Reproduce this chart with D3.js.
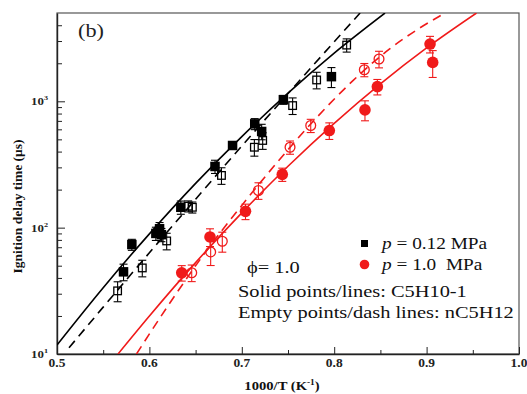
<!DOCTYPE html>
<html>
<head>
<meta charset="utf-8">
<script src="https://cdn.jsdelivr.net/npm/d3@7"></script>
<style>
  html, body { margin: 0; padding: 0; background: #fff; }
  svg { display: block; }
  text { font-family: "Liberation Serif", "Times New Roman", serif; }
</style>
</head>
<body>
<svg id="chart" width="527" height="394"></svg>
<script>
// Ignition delay times vs inverse temperature, phi = 1.0
// Measured points (1000/T in 1/K, delay in microseconds) and relative error
const c5h10LowX   = [0.572, 0.581, 0.607, 0.611, 0.613, 0.634, 0.671, 0.690, 0.714, 0.7215, 0.745, 0.797];
const c5h10LowY   = [44.7, 73.5, 90, 98, 88, 145, 305, 447, 663, 577, 1030, 1567];
const c5h10LowErr = [0.15, 0.10, 0.12, 0.12, 0.12, 0.12, 0.12, 0.07, 0.10, 0.14, 0.08, 0.18];

const nc5h12LowX   = [0.5656, 0.5923, 0.6187, 0.642, 0.6465, 0.678, 0.7136, 0.7226, 0.755, 0.781, 0.8135];
const nc5h12LowY   = [31.6, 48, 78.5, 148, 145, 259, 433, 490, 925, 1476, 2786];
const nc5h12LowErr = [0.18, 0.15, 0.15, 0.10, 0.10, 0.15, 0.15, 0.15, 0.15, 0.15, 0.12];

const c5h10HighX   = [0.635, 0.6656, 0.704, 0.7438, 0.7947, 0.8333, 0.8467, 0.9037, 0.9066];
const c5h10HighY   = [43.9, 84.4, 134.6, 264, 587, 855, 1306, 2840, 2032];
const c5h10HighErr = [0.14, 0.16, 0.14, 0.12, 0.15, 0.18, 0.14, 0.15, 0.24];

const nc5h12HighX   = [0.6458, 0.6663, 0.6789, 0.718, 0.7522, 0.7746, 0.8326, 0.8485];
const nc5h12HighY   = [44, 64.3, 78, 197, 433, 643, 1778, 2164];
const nc5h12HighErr = [0.15, 0.22, 0.18, 0.15, 0.12, 0.12, 0.12, 0.15];

// Model predictions
const c5h10LowModelX  = [0.50, 0.55, 0.60, 0.65, 0.70, 0.75, 0.80, 0.855];
const c5h10LowModelY  = [11.8, 33.5, 89.3, 224, 526, 1162, 2410, 5000];
const nc5h12LowModelX = [0.513, 0.55, 0.60, 0.65, 0.70, 0.75, 0.80, 0.828];
const nc5h12LowModelY = [11.2, 23.5, 63.3, 168, 443, 1151, 2960, 5000];
const c5h10HighModelX = [0.566, 0.60, 0.65, 0.70, 0.75, 0.80, 0.85, 0.90, 0.954];
const c5h10HighModelY = [10, 20, 52.9, 131, 306, 669, 1374, 2646, 5000];
const nc5h12HighModelX = [0.586, 0.62, 0.66, 0.70, 0.74, 0.78, 0.82, 0.86, 0.89, 0.92];
const nc5h12HighModelY = [10, 24, 63, 150, 340, 730, 1450, 2600, 3700, 5000];

// Axis ticks
const xMajorTicks = [0.5, 0.6, 0.7, 0.8, 0.9, 1.0];
const xTickLabels = ["0.5", "0.6", "0.7", "0.8", "0.9", "1.0"];
const xMinorTicks = [0.55, 0.65, 0.75, 0.85, 0.95];
const yMajorTicks = [10, 100, 1000];
const yTickExponents = ["1", "2", "3"];
const yMinorTicks = [20, 30, 40, 50, 60, 70, 80, 90, 200, 300, 400, 500, 600, 700, 800, 900, 2000, 3000, 4000];

const BLACK = "#000";
const RED = "#f01a1a";
const STRETCH = 1.17; // wide-set lettering
const NOTE_STRETCH = 1.2;

const svg = d3.select("#chart");
const plot = { left: 57, right: 519, top: 13, bottom: 354 };

const x = d3.scaleLinear().domain([0.5, 1.0]).range([plot.left, plot.right]);
const y = d3.scaleLog().domain([10, 5000]).range([plot.bottom, plot.top]);

svg.append("defs").append("clipPath").attr("id", "plotClip")
  .append("rect")
  .attr("x", plot.left).attr("y", plot.top)
  .attr("width", plot.right - plot.left).attr("height", plot.bottom - plot.top);

// Frame
svg.append("rect")
  .attr("x", plot.left).attr("y", plot.top)
  .attr("width", plot.right - plot.left).attr("height", plot.bottom - plot.top)
  .attr("fill", "none").attr("stroke", "#555").attr("stroke-width", 1.2);

// Bottom axis: inward ticks
const xAxisMajor = d3.axisBottom(x).tickValues(xMajorTicks).tickSizeInner(-7).tickSizeOuter(0)
  .tickFormat("").tickPadding(12);
const gx = svg.append("g").attr("transform", `translate(0,${plot.bottom})`).call(xAxisMajor);
gx.select(".domain").attr("stroke", "#222").attr("stroke-width", 1.4);
gx.selectAll(".tick line").attr("stroke", "#222").attr("stroke-width", 1);
const gxMinor = svg.append("g").attr("transform", `translate(0,${plot.bottom})`)
  .call(d3.axisBottom(x).tickValues(xMinorTicks).tickSizeInner(-4).tickSizeOuter(0).tickFormat(""));
gxMinor.select(".domain").remove();
gxMinor.selectAll(".tick line").attr("stroke", "#222").attr("stroke-width", 1);

xMajorTicks.forEach((v, i) => {
  svg.append("g").attr("transform", `translate(${x(v)},367) scale(${STRETCH},1)`)
    .append("text").attr("text-anchor", "middle")
    .attr("font-weight", "bold").attr("font-size", 11.5).attr("fill", "#222")
    .text(xTickLabels[i]);
});

// Left axis: inward ticks with power-of-ten labels
const gy = svg.append("g").attr("transform", `translate(${plot.left},0)`)
  .call(d3.axisLeft(y).tickValues(yMajorTicks).tickSizeInner(-8).tickSizeOuter(0).tickFormat(""));
gy.select(".domain").attr("stroke", "#222").attr("stroke-width", 1.4);
gy.selectAll(".tick line").attr("stroke", "#222").attr("stroke-width", 1);
const gyMinor = svg.append("g").attr("transform", `translate(${plot.left},0)`)
  .call(d3.axisLeft(y).tickValues(yMinorTicks).tickSizeInner(-5).tickSizeOuter(0).tickFormat(""));
gyMinor.select(".domain").remove();
gyMinor.selectAll(".tick line").attr("stroke", "#222").attr("stroke-width", 1);

yMajorTicks.forEach((v, i) => {
  const t = svg.append("g").attr("transform", `translate(48,${y(v) + 4}) scale(${STRETCH},1)`)
    .append("text").attr("text-anchor", "end")
    .attr("font-weight", "bold").attr("font-size", 11).attr("fill", "#222");
  t.append("tspan").text("10");
  t.append("tspan").attr("dy", -5).attr("font-size", 7).text(yTickExponents[i]);
});

// Axis titles
svg.append("text")
  .attr("transform", `translate(22,${(plot.top + plot.bottom) / 2 + 23}) rotate(-90)`)
  .attr("text-anchor", "middle").attr("font-weight", "bold").attr("font-size", 13.5).attr("fill", "#111")
  .text("Ignition delay time (\u03bcs)");

const xTitle = svg.append("g").attr("transform", `translate(282,390) scale(${STRETCH},1)`)
  .append("text").attr("text-anchor", "middle")
  .attr("font-weight", "bold").attr("font-size", 12.5).attr("fill", "#111");
xTitle.append("tspan").text("1000/T (K");
xTitle.append("tspan").attr("dy", -5).attr("font-size", 8).text("-1");
xTitle.append("tspan").attr("dy", 5).text(")");

// Model curves
const area = svg.append("g").attr("clip-path", "url(#plotClip)");
const lineGen = d3.line().x(d => x(d[0])).y(d => y(d[1])).curve(d3.curveMonotoneX);
function drawModel(xs, ys, color, dash) {
  area.append("path")
    .datum(xs.map((v, i) => [v, ys[i]]))
    .attr("d", lineGen)
    .attr("fill", "none").attr("stroke", color).attr("stroke-width", 1.6)
    .attr("stroke-dasharray", dash);
}
drawModel(c5h10LowModelX, c5h10LowModelY, BLACK, null);
drawModel(nc5h12LowModelX, nc5h12LowModelY, BLACK, "9,6");
drawModel(c5h10HighModelX, c5h10HighModelY, RED, null);
drawModel(nc5h12HighModelX, nc5h12HighModelY, RED, "9,6");

// Error bars
function drawErrors(xs, ys, errs, color) {
  const g = area.append("g").attr("stroke", color).attr("stroke-width", 1.1);
  xs.forEach((xv, i) => {
    const lo = y(ys[i] * (1 - errs[i]));
    const hi = y(ys[i] * (1 + errs[i]));
    const cx = x(xv);
    g.append("line").attr("x1", cx).attr("x2", cx).attr("y1", lo).attr("y2", hi);
    g.append("line").attr("x1", cx - 4).attr("x2", cx + 4).attr("y1", lo).attr("y2", lo);
    g.append("line").attr("x1", cx - 4).attr("x2", cx + 4).attr("y1", hi).attr("y2", hi);
  });
}
drawErrors(c5h10LowX, c5h10LowY, c5h10LowErr, BLACK);
drawErrors(nc5h12LowX, nc5h12LowY, nc5h12LowErr, BLACK);
drawErrors(c5h10HighX, c5h10HighY, c5h10HighErr, RED);
drawErrors(nc5h12HighX, nc5h12HighY, nc5h12HighErr, RED);

// Markers
const sq = 9.5;
area.append("g").selectAll("rect.filled").data(c5h10LowX).join("rect")
  .attr("x", (d) => x(d) - sq / 2).attr("y", (d, i) => y(c5h10LowY[i]) - sq / 2)
  .attr("width", sq).attr("height", sq).attr("fill", BLACK);
area.append("g").selectAll("rect.empty").data(nc5h12LowX).join("rect")
  .attr("x", (d) => x(d) - 3.8).attr("y", (d, i) => y(nc5h12LowY[i]) - 3.8)
  .attr("width", 7.6).attr("height", 7.6)
  .attr("fill", "none").attr("stroke", BLACK).attr("stroke-width", 1.3);
area.append("g").selectAll("circle.filled").data(c5h10HighX).join("circle")
  .attr("cx", (d) => x(d)).attr("cy", (d, i) => y(c5h10HighY[i]))
  .attr("r", 5.8).attr("fill", RED);
area.append("g").selectAll("circle.empty").data(nc5h12HighX).join("circle")
  .attr("cx", (d) => x(d)).attr("cy", (d, i) => y(nc5h12HighY[i]))
  .attr("r", 4.9).attr("fill", "none").attr("stroke", RED).attr("stroke-width", 1.3);

// Panel label
svg.append("g").attr("transform", `translate(78,37) scale(${STRETCH},1)`)
  .append("text").attr("font-size", 19).attr("fill", "#222").text("(b)");

// Legend
svg.append("rect").attr("x", 361).attr("y", 240).attr("width", 7).attr("height", 7).attr("fill", BLACK);
svg.append("circle").attr("cx", 364.5).attr("cy", 264.5).attr("r", 4.8).attr("fill", RED);

function legendLine(yPos, value) {
  const t = svg.append("g").attr("transform", `translate(382,${yPos}) scale(${STRETCH},1)`)
    .append("text").attr("font-size", 16.5).attr("fill", "#111");
  t.append("tspan").attr("font-style", "italic").text("p");
  t.append("tspan").text(value);
}
legendLine(249, " = 0.12 MPa");
legendLine(270, " = 1.0\u00a0\u00a0MPa");

function noteLine(xPos, yPos, str) {
  svg.append("g").attr("transform", `translate(${xPos},${yPos}) scale(${NOTE_STRETCH},1)`)
    .append("text").attr("font-size", 17).attr("fill", "#111").text(str);
}
noteLine(247, 273, "\u03d5= 1.0");
noteLine(238, 297, "Solid points/lines: C5H10-1");
noteLine(238, 318, "Empty points/dash lines: nC5H12");
</script>
</body>
</html>
